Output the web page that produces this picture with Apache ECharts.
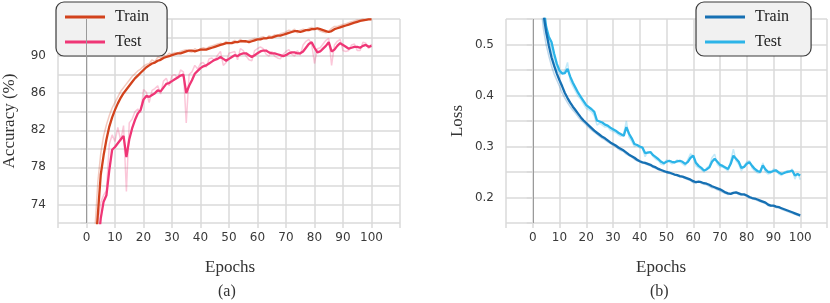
<!DOCTYPE html>
<html>
<head>
<meta charset="utf-8">
<script src="https://cdn.jsdelivr.net/npm/echarts@6/dist/echarts.min.js"></script>
<style>
html,body{margin:0;padding:0;background:#fff;}
#c{width:830px;height:303px;}
</style>
</head>
<body>
<div id="c"></div>
<script>
// ---- data ----
const accTrainSmooth = [40,55,63,69,73,77.2,79.3,81,82.4,83.4,84.2,84.9,85.5,86.0,86.4,86.8,87.2,87.6,87.9,88.2,88.5,88.8,89.0,89.2,89.3,89.5,89.6,89.8,89.9,90.0,90.1,90.2,90.3,90.3,90.4,90.5,90.6,90.6,90.5,90.6,90.7,90.7,90.7,90.8,90.9,91.0,91.1,91.2,91.3,91.4,91.4,91.4,91.5,91.5,91.6,91.6,91.6,91.5,91.6,91.7,91.8,91.8,91.9,91.9,92.0,92.0,92.1,92.2,92.2,92.3,92.4,92.5,92.6,92.7,92.7,92.6,92.7,92.8,92.8,92.9,92.9,93.0,92.9,92.8,92.7,92.6,92.7,92.9,93.0,93.1,93.2,93.3,93.4,93.5,93.6,93.7,93.8,93.85,93.9,93.95,93.95];
const accTrainRaw = [44,60,66,71.5,76.5,79.5,81.4,82.6,83.6,84.4,85.0,85.6,86.2,86.6,87.0,87.4,87.8,88.1,88.4,88.6,88.9,89.1,89.2,89.6,89.4,89.9,89.8,90.1,90.0,90.3,90.2,90.4,90.3,90.5,90.6,90.7,90.5,90.4,90.8,90.6,90.8,90.9,90.8,91.0,91.1,91.2,91.3,91.4,91.3,91.6,91.4,91.5,91.7,91.5,91.8,91.6,91.5,91.7,91.8,91.9,91.8,92.0,92.1,91.9,92.2,92.1,92.3,92.2,92.4,92.5,92.6,92.8,92.7,92.9,92.5,92.8,92.9,92.8,93.0,93.1,93.0,92.9,92.7,92.6,92.5,92.7,93.0,93.2,93.2,93.3,93.4,93.5,93.6,93.7,93.8,93.9,93.9,94.0,93.9,94.0,94.0];
const accTestSmooth = [35,48,58,64,69.5,72.5,74.3,75.0,77.7,79.9,80.2,80.6,81.0,81.4,79.1,81.0,82.2,83.1,83.8,84.2,85.3,85.7,85.6,85.8,86.0,86.3,86.2,86.6,87.0,87.1,87.3,87.5,87.7,87.9,88.0,86.0,86.8,87.4,88.1,88.4,88.7,88.9,89.0,89.2,89.4,89.6,89.7,89.9,89.7,89.5,89.7,89.9,90.1,90.0,90.2,90.3,90.3,90.1,89.9,90.1,90.3,90.5,90.6,90.6,90.4,90.3,90.3,90.2,90.1,90.0,90.1,90.3,90.4,90.4,90.3,90.3,90.5,90.9,91.3,91.5,90.9,90.4,90.5,90.8,91.1,91.5,90.5,90.7,91.1,91.4,91.2,91.0,90.8,90.9,91.0,91.0,90.9,91.1,91.2,91.0,91.1];
const accTestRaw = [40,53,62,67,72.0,74.2,75.0,75.5,80.5,81.5,80.8,82.3,80.9,82.5,75.4,82.8,83.2,84.0,84.3,83.9,86.4,86.1,85.0,86.3,86.5,86.8,85.9,87.3,87.6,86.8,87.9,88.0,87.6,88.5,88.3,82.8,88.0,88.3,89.0,88.6,89.2,89.3,88.8,89.7,89.8,89.5,90.1,90.5,89.0,89.3,90.3,90.4,90.5,89.6,90.8,90.6,90.0,89.6,89.5,90.6,90.8,91.0,90.8,90.2,90.0,90.5,90.0,89.8,89.7,90.2,90.5,90.7,90.2,90.0,90.6,90.1,91.2,91.6,91.8,91.3,89.2,90.8,90.9,91.3,91.7,91.9,89.0,91.2,91.6,91.8,90.6,90.5,90.6,91.2,91.3,90.6,90.6,91.5,91.4,90.8,91.3];

const lossTrainSmooth = [1.2,0.9,0.72,0.62,0.56,0.525,0.498,0.475,0.458,0.443,0.43,0.418,0.405,0.395,0.386,0.378,0.371,0.364,0.357,0.351,0.346,0.341,0.336,0.331,0.327,0.323,0.319,0.316,0.312,0.308,0.305,0.302,0.298,0.295,0.292,0.288,0.284,0.281,0.278,0.274,0.271,0.269,0.268,0.266,0.264,0.261,0.259,0.256,0.254,0.252,0.250,0.249,0.247,0.245,0.244,0.242,0.241,0.239,0.237,0.235,0.232,0.230,0.231,0.230,0.228,0.227,0.225,0.222,0.220,0.218,0.216,0.213,0.210,0.208,0.207,0.209,0.210,0.208,0.206,0.206,0.204,0.201,0.199,0.198,0.196,0.194,0.192,0.190,0.186,0.184,0.184,0.182,0.181,0.179,0.177,0.175,0.173,0.171,0.169,0.167,0.165];
const lossTrainRaw = [1.1,0.82,0.66,0.58,0.53,0.500,0.478,0.458,0.442,0.430,0.418,0.405,0.395,0.386,0.378,0.371,0.365,0.358,0.352,0.347,0.342,0.337,0.332,0.328,0.324,0.320,0.316,0.313,0.309,0.306,0.302,0.300,0.295,0.292,0.290,0.285,0.282,0.279,0.275,0.272,0.270,0.268,0.266,0.264,0.262,0.259,0.257,0.254,0.253,0.250,0.249,0.247,0.246,0.244,0.243,0.240,0.240,0.237,0.235,0.233,0.229,0.229,0.231,0.228,0.226,0.225,0.222,0.219,0.218,0.215,0.213,0.210,0.208,0.206,0.207,0.210,0.209,0.206,0.205,0.205,0.202,0.199,0.198,0.196,0.194,0.192,0.190,0.188,0.184,0.183,0.183,0.180,0.180,0.177,0.175,0.173,0.171,0.169,0.167,0.165,0.163];
const lossTestSmooth = [1.25,0.95,0.75,0.64,0.575,0.535,0.515,0.505,0.482,0.462,0.449,0.443,0.444,0.452,0.437,0.425,0.415,0.405,0.397,0.389,0.381,0.377,0.373,0.368,0.351,0.349,0.347,0.343,0.341,0.337,0.334,0.331,0.327,0.324,0.321,0.338,0.325,0.316,0.305,0.303,0.300,0.298,0.287,0.288,0.289,0.283,0.279,0.275,0.270,0.267,0.270,0.272,0.270,0.269,0.271,0.272,0.270,0.266,0.270,0.278,0.282,0.268,0.262,0.258,0.253,0.255,0.259,0.270,0.276,0.270,0.264,0.262,0.259,0.256,0.266,0.282,0.276,0.270,0.258,0.260,0.266,0.269,0.262,0.256,0.252,0.250,0.263,0.255,0.250,0.250,0.252,0.253,0.249,0.246,0.248,0.250,0.251,0.253,0.243,0.246,0.243];
const lossTestRaw = [1.2,0.88,0.7,0.6,0.545,0.52,0.51,0.49,0.466,0.452,0.442,0.445,0.448,0.465,0.428,0.418,0.408,0.398,0.392,0.383,0.375,0.372,0.368,0.360,0.342,0.346,0.342,0.338,0.338,0.332,0.330,0.327,0.323,0.320,0.325,0.350,0.318,0.310,0.300,0.302,0.297,0.296,0.280,0.290,0.288,0.280,0.275,0.272,0.265,0.264,0.274,0.270,0.266,0.268,0.274,0.270,0.266,0.262,0.275,0.286,0.280,0.262,0.258,0.254,0.250,0.258,0.262,0.278,0.285,0.265,0.260,0.260,0.256,0.252,0.272,0.295,0.272,0.265,0.252,0.262,0.270,0.272,0.258,0.252,0.248,0.248,0.268,0.250,0.246,0.248,0.256,0.254,0.246,0.243,0.250,0.252,0.250,0.256,0.236,0.248,0.235];

const xTickLabels = [0,10,20,30,40,50,60,70,80,90,100];
const accTickLabels = [74,78,82,86,90];
const lossTickLabels = [0.2,0.3,0.4,0.5];

// ---- build ----
function pairs(arr){ return arr.map((v,i)=>[i,v]); }
const serif = '"Liberation Serif", "DejaVu Serif", serif';
const sans = '"DejaVu Sans", sans-serif';
const C = {
  accTrain:'#d2421c', accTest:'#ef3676',
  lossTrain:'#1670b3', lossTest:'#2cb4e8'
};
function xAxis(gi){
  return {
    type:'value', gridIndex:gi, min:-10, max:110, interval:10,
    axisLine:{show:false},
    axisTick:{show:true, length:5, lineStyle:{color:'#dadada', width:1.5}},
    axisLabel:{margin:9, color:'#3a3a3a', fontFamily:sans, fontSize:12,
      formatter:v=> xTickLabels.indexOf(v)>=0 ? String(v) : ''},
    splitLine:{show:true, lineStyle:{color:'#dadada', width:1.5}}
  };
}
function yAxis(gi, min, max, interval, labels, name){
  return {
    type:'value', gridIndex:gi, min:min, max:max, interval:interval,
    name:name, nameLocation:'middle', nameGap:40, nameRotate:90,
    nameTextStyle:{fontFamily:serif, fontSize:17, color:'#333'},
    axisLine:{show:false},
    axisTick:{show:true, length:6, lineStyle:{color:'#dadada', width:1.5}},
    axisLabel:{margin:12, color:'#3a3a3a', fontFamily:sans, fontSize:12,
      formatter:v=> labels.some(t=>Math.abs(t-v)<1e-6) ? String(v) : ''},
    splitLine:{show:true, lineStyle:{color:'#dadada', width:1.5}}
  };
}
function line(name, data, color, gi, raw, extra){
  const s = {
    name:name, type:'line', xAxisIndex:gi, yAxisIndex:gi,
    data:pairs(data), showSymbol:false, symbol:'none', clip:true,
    lineStyle:{color:color, width: raw?1.5:2.3, opacity: raw?0.28:1},
    itemStyle:{color:color},
    z: raw?2:3, silent:true
  };
  return Object.assign(s, extra||{});
}
const zeroMark = {markLine:{symbol:'none', silent:true, label:{show:false},
  lineStyle:{color:'#9a9a9a', width:1, type:'solid'}, data:[{xAxis:0}]}};

const legendCommon = {
  orient:'vertical', icon:'rect', itemWidth:40, itemHeight:3, itemGap:9,
  itemStyle:{borderWidth:0},
  textStyle:{fontFamily:serif, fontSize:16, color:'#222', padding:[0,0,0,5]},
  backgroundColor:'#f1f1f1', borderColor:'#3a3a3a', borderWidth:1.2, borderRadius:8,
  padding:[7,18,6,9], selectedMode:false
};

const option = {
  animation:false,
  backgroundColor:'#fff',
  grid:[
    {left:56, top:19, width:344, height:204},
    {left:506, top:19, width:323, height:204}
  ],
  xAxis:[xAxis(0), xAxis(1)],
  yAxis:[
    yAxis(0, 72, 94, 2, accTickLabels, 'Accuracy (%)'),
    yAxis(1, 0.15, 0.55, 0.05, lossTickLabels, 'Loss')
  ],
  legend:[
    Object.assign({}, legendCommon, {left:56, top:2, data:['Train','Test']}),
    Object.assign({}, legendCommon, {left:696, top:2, data:['Train ','Test ']})
  ],
  graphic:[
    {type:'text', left:229-24, top:259, style:{text:'Epochs', font:'17px "Liberation Serif"', fill:'#333'}},
    {type:'text', left:660-24, top:259, style:{text:'Epochs', font:'17px "Liberation Serif"', fill:'#333'}},
    {type:'text', left:218, top:284, style:{text:'(a)', font:'16px "Liberation Serif"', fill:'#333'}},
    {type:'text', left:650, top:284, style:{text:'(b)', font:'16px "Liberation Serif"', fill:'#333'}}
  ],
  series:[
    line('Train raw', accTrainRaw, C.accTrain, 0, true, zeroMark),
    line('Test raw', accTestRaw, C.accTest, 0, true),
    line('Test', accTestSmooth, C.accTest, 0, false),
    line('Train', accTrainSmooth, C.accTrain, 0, false),
    line('Train raw ', lossTrainRaw, C.lossTrain, 1, true, zeroMark),
    line('Test raw ', lossTestRaw, C.lossTest, 1, true),
    line('Test ', lossTestSmooth, C.lossTest, 1, false),
    line('Train ', lossTrainSmooth, C.lossTrain, 1, false)
  ]
};
const chart = echarts.init(document.getElementById('c'), null, {renderer:'canvas'});
chart.setOption(option);
</script>
</body>
</html>
